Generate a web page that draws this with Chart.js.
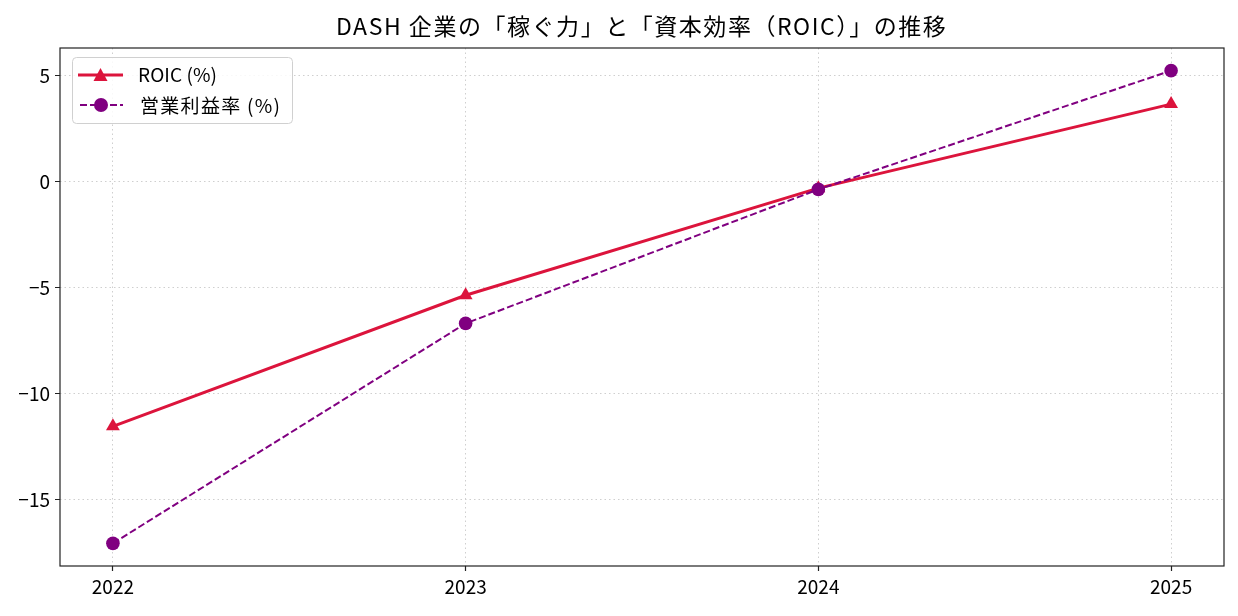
<!DOCTYPE html>
<html>
<head>
<meta charset="utf-8">
<script src="https://cdn.jsdelivr.net/npm/chart.js@4"></script>
<style>
  html, body { margin: 0; padding: 0; background: #fff; }
  #wrap { width: 1238px; height: 616px; }
</style>
</head>
<body>
<div id="wrap"><canvas id="roicChart" width="1238" height="616"></canvas></div>
<script>
const FONT = '"Noto Sans CJK JP", "Noto Sans", sans-serif';

// data
const years = [2022, 2023, 2024, 2025];
const roic = [-11.55, -5.36, -0.3, 3.67];
const opMargin = [-17.08, -6.69, -0.36, 5.25];
const yTicks = [-15, -10, -5, 0, 5];
const titleText = 'DASH 企業の「稼ぐ力」と「資本効率（ROIC）」の推移';
const seriesNames = ['ROIC (%)', '営業利益率 (%)'];

const RED = '#dc143c';
const PURPLE = '#800080';

// draw text stretched a little to a given width (the original font is wider)
function fillSpaced(ctx, text, x, y, width) {
    ctx.letterSpacing = '0px';
    const w = ctx.measureText(text).width;
    const n = [...text].length;
    const sp = Math.max(0, (width - w) / (n - 1));
    ctx.letterSpacing = sp.toFixed(2) + 'px';
    ctx.fillText(text, x, y);
    ctx.letterSpacing = '0px';
}

// title, frame and legend drawn by hand (matplotlib look)
const extras = {
    id: 'extras',
    afterDraw(chart) {
        const ctx = chart.ctx;
        const a = chart.chartArea;
        ctx.save();

        // frame
        ctx.strokeStyle = '#222';
        ctx.lineWidth = 1.2;
        ctx.strokeRect(a.left, a.top, a.right - a.left, a.bottom - a.top);

        // title
        ctx.fillStyle = '#000';
        ctx.font = '23px ' + FONT;
        ctx.textAlign = 'left';
        ctx.textBaseline = 'middle';
        fillSpaced(ctx, titleText, 336, 26, 610);

        // legend box
        ctx.beginPath();
        ctx.roundRect(72.5, 57.5, 220, 66, 4);
        ctx.fillStyle = 'rgba(255,255,255,0.85)';
        ctx.fill();
        ctx.strokeStyle = '#d0d0d0';
        ctx.lineWidth = 1;
        ctx.stroke();

        // ROIC entry
        ctx.strokeStyle = RED;
        ctx.lineWidth = 3;
        ctx.beginPath();
        ctx.moveTo(78, 75);
        ctx.lineTo(123, 75);
        ctx.stroke();
        ctx.fillStyle = RED;
        ctx.beginPath();
        ctx.moveTo(100.5, 68);
        ctx.lineTo(107.5, 81);
        ctx.lineTo(93.5, 81);
        ctx.closePath();
        ctx.fill();

        // margin entry
        ctx.strokeStyle = PURPLE;
        ctx.lineWidth = 2;
        ctx.setLineDash([7, 3]);
        ctx.beginPath();
        ctx.moveTo(80, 105);
        ctx.lineTo(123, 105);
        ctx.stroke();
        ctx.setLineDash([]);
        ctx.fillStyle = PURPLE;
        ctx.beginPath();
        ctx.arc(101, 105, 7, 0, Math.PI * 2);
        ctx.fill();

        ctx.fillStyle = '#000';
        ctx.font = '19px ' + FONT;
        ctx.textAlign = 'left';
        fillSpaced(ctx, seriesNames[0], 138, 75, 79);
        fillSpaced(ctx, seriesNames[1], 140, 106, 140);

        ctx.restore();
    }
};

const ctx = document.getElementById('roicChart').getContext('2d');
new Chart(ctx, {
    type: 'line',
    data: {
        datasets: [{
            label: seriesNames[0],
            data: years.map((x, i) => ({ x: x, y: roic[i] })),
            borderColor: RED,
            backgroundColor: RED,
            borderWidth: 3,
            pointStyle: 'triangle',
            pointRadius: 8,
            pointHoverRadius: 8,
            pointBorderWidth: 0,
            order: 2
        }, {
            label: seriesNames[1],
            data: years.map((x, i) => ({ x: x, y: opMargin[i] })),
            borderColor: PURPLE,
            backgroundColor: PURPLE,
            borderWidth: 2,
            borderDash: [7, 3],
            pointStyle: 'circle',
            pointRadius: 6.8,
            pointHoverRadius: 6.8,
            pointBorderWidth: 0,
            order: 1
        }]
    },
    options: {
        responsive: false,
        animation: false,
        layout: { padding: { top: 48, right: 14, left: 0, bottom: 0 } },
        plugins: {
            legend: { display: false },
            title: { display: false },
            tooltip: { enabled: false }
        },
        scales: {
            x: {
                type: 'linear',
                min: 2021.85,
                max: 2025.15,
                afterBuildTicks: (scale) => { scale.ticks = years.map(v => ({ value: v })); },
                afterFit: (scale) => { scale.height = 50; },
                ticks: {
                    color: '#000',
                    font: { family: FONT, size: 19 },
                    padding: 4,
                    maxRotation: 0,
                    callback: (v) => String(v)
                },
                grid: {
                    color: '#cfcfcf',
                    lineWidth: 1,
                    tickLength: 5,
                    tickColor: '#222',
                    tickWidth: 1.2,
                    tickBorderDash: [1, 0]
                },
                border: { display: false, dash: [1.5, 3] }
            },
            y: {
                min: -18.15,
                max: 6.32,
                afterBuildTicks: (scale) => { scale.ticks = yTicks.map(v => ({ value: v })); },
                afterFit: (scale) => { scale.width = 60; },
                ticks: {
                    color: '#000',
                    font: { family: FONT, size: 19 },
                    padding: 5,
                    callback: (v) => (v < 0 ? '\u2212' + Math.abs(v) : String(v))
                },
                grid: {
                    color: '#cfcfcf',
                    lineWidth: 1,
                    tickLength: 5,
                    tickColor: '#222',
                    tickWidth: 1.2,
                    tickBorderDash: [1, 0]
                },
                border: { display: false, dash: [1.5, 3] }
            }
        }
    },
    plugins: [extras]
});
</script>
</body>
</html>
